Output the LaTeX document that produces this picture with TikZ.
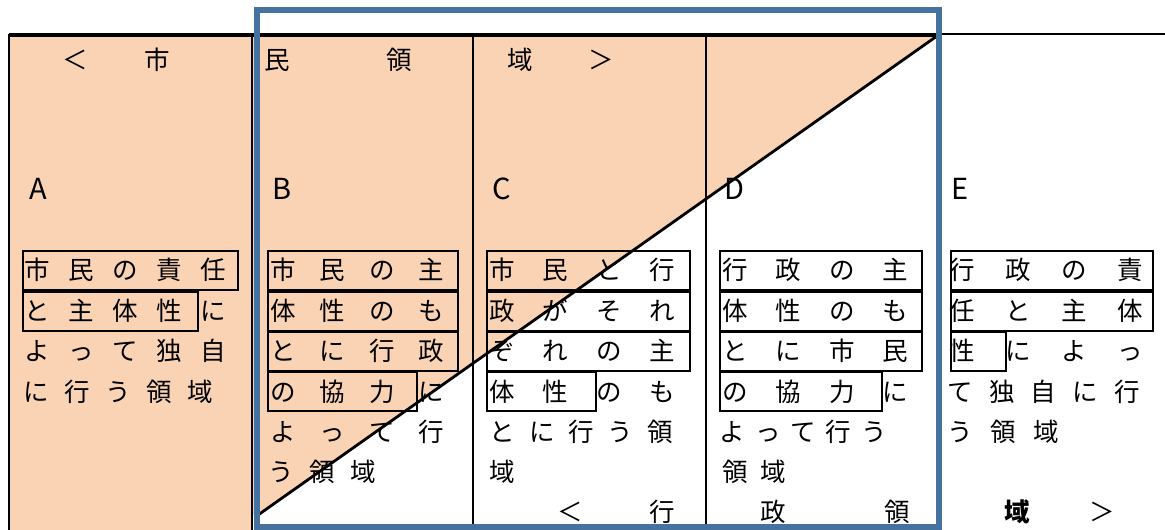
\documentclass[tikz,border=0pt]{standalone}
\usepackage{fontspec}
\newfontfamily\jpfont{Noto Sans CJK JP}
\definecolor{peach}{HTML}{FAD3B4}
\definecolor{frameblue}{HTML}{4672A0}
\tikzset{
  jp/.style={font=\jpfont\fontsize{25.5}{25.5}\selectfont, inner sep=0pt, anchor=base west},
  lbl/.style={font=\jpfont\fontsize{29}{29}\selectfont, inner sep=0pt, anchor=base},
  cellbox/.style={draw=black, line width=2pt},
  rule/.style={draw=black, line width=2.2pt},
}
\newcommand\dist[2]{\hbox to #1pt{#2}}
\begin{document}
\begin{tikzpicture}[x=1pt,y=-1pt]
\useasboundingbox (0,0) rectangle (1165,530);
% fills
\fill[peach] (9,35) rectangle (252,530);
\fill[peach] (252,35) -- (937,35) -- (258,515) -- (252,515) -- cycle;
% table rules
\draw[rule] (9,34) -- (9,530);
\draw[rule] (252,35) -- (252,530);
\draw[rule] (473,35) -- (473,527);
\draw[rule] (706,35) -- (706,527);
\draw[draw=black, line width=3.5pt] (9,35) -- (938,35);
\draw[draw=black, line width=1.8pt] (938,34) -- (1165,34);
% cell boxes
\draw[cellbox] (23,251) rectangle (238,290);
\draw[cellbox] (23,292) rectangle (198,331);
\draw[cellbox] (268,251) rectangle (458,290);
\draw[cellbox] (268,292) rectangle (458,331);
\draw[cellbox] (268,332) rectangle (458,371);
\draw[cellbox] (268,372) rectangle (417,411);
\draw[cellbox] (487,251) rectangle (690,290);
\draw[cellbox] (487,292) rectangle (690,331);
\draw[cellbox] (487,332) rectangle (690,371);
\draw[cellbox] (487,372) rectangle (596,411);
\draw[cellbox] (720,251) rectangle (922,290);
\draw[cellbox] (720,292) rectangle (922,331);
\draw[cellbox] (720,332) rectangle (922,371);
\draw[cellbox] (720,372) rectangle (882,411);
\draw[cellbox] (951,251) rectangle (1153,290);
\draw[cellbox] (951,292) rectangle (1153,331);
\draw[cellbox] (951,332) rectangle (1006,371);
% header
\node[jp] (h1) at (62.5,69.5) {\dist{107}{＜\hfill 市}};
\node[jp] (h2) at (264.5,69.5) {\dist{147}{民\hfill 領}};
\node[jp] (h3) at (507.5,69.5) {\dist{106}{域\hfill ＞}};
% labels
\node[lbl] (la) at (38,199) {A};
\node[lbl] (lb) at (282,199) {B};
\node[lbl] (lc) at (502,199) {C};
\node[lbl] (ld) at (734,199) {D};
\node[lbl] (le) at (960,199) {E};
% column A
\node[jp] (a1) at (24.5,279.5) {\dist{201}{市\hfill 民\hfill の\hfill 責\hfill 任}};
\node[jp] (a2) at (24.5,320.5) {\dist{201}{と\hfill 主\hfill 体\hfill 性\hfill に}};
\node[jp] (a3) at (24.5,360.5) {\dist{201}{よ\hfill っ\hfill て\hfill 独\hfill 自}};
\node[jp] (a4) at (23.5,401.5) {\dist{189}{に\hfill 行\hfill う\hfill 領\hfill 域}};
% column B
\node[jp] (b1) at (270.5,279.5) {\dist{173}{市\hfill 民\hfill の\hfill 主}};
\node[jp] (b2) at (270.5,320.5) {\dist{173}{体\hfill 性\hfill の\hfill も}};
\node[jp] (b3) at (270.5,360.5) {\dist{173}{と\hfill に\hfill 行\hfill 政}};
\node[jp] (b4) at (270.5,401.5) {\dist{173}{の\hfill 協\hfill 力\hfill に}};
\node[jp] (b5) at (270.5,441.5) {\dist{173}{よ\hfill っ\hfill て\hfill 行}};
\node[jp] (b6) at (268.5,481.5) {\dist{107}{う\hfill 領\hfill 域}};
% column C
\node[jp] (c1) at (489.5,279.5) {\dist{185}{市\hfill 民\hfill と\hfill 行}};
\node[jp] (c2) at (489.5,320.5) {\dist{185}{政\hfill が\hfill そ\hfill れ}};
\node[jp] (c3) at (489.5,360.5) {\dist{185}{ぞ\hfill れ\hfill の\hfill 主}};
\node[jp] (c4) at (489.5,401.5) {\dist{185}{体\hfill 性\hfill の\hfill も}};
\node[jp] (c5) at (489.5,441.5) {\dist{183}{と\hfill に\hfill 行\hfill う\hfill 領}};
\node[jp] (c6) at (489.5,481.5) {域};
\node[jp] (c7) at (557.5,521.5) {\dist{117}{＜\hfill 行}};
% column D
\node[jp] (d1) at (722.5,279.5) {\dist{185}{行\hfill 政\hfill の\hfill 主}};
\node[jp] (d2) at (722.5,320.5) {\dist{185}{体\hfill 性\hfill の\hfill も}};
\node[jp] (d3) at (722.5,360.5) {\dist{185}{と\hfill に\hfill 市\hfill 民}};
\node[jp] (d4) at (722.5,401.5) {\dist{185}{の\hfill 協\hfill 力\hfill に}};
\node[jp] (d5) at (719.5,441.5) {\dist{167}{よ\hfill っ\hfill て\hfill 行\hfill う}};
\node[jp] (d6) at (722.5,481.5) {\dist{63}{領\hfill 域}};
\node[jp] (d7) at (760.5,521.5) {\dist{149}{政\hfill 領}};
% column E
\node[jp] (e1) at (949.5,279.5) {\dist{193}{行\hfill 政\hfill の\hfill 責}};
\node[jp] (e2) at (949.5,320.5) {\dist{193}{任\hfill と\hfill 主\hfill 体}};
\node[jp] (e3) at (949.5,360.5) {\dist{193}{性\hfill に\hfill よ\hfill っ}};
\node[jp] (e4) at (947.5,401.5) {\dist{192}{て\hfill 独\hfill 自\hfill に\hfill 行}};
\node[jp] (e5) at (947.5,441.5) {\dist{111}{う\hfill 領\hfill 域}};
\node[jp] (e6) at (1004.5,521.5) {\dist{110}{{\bfseries 域}\hfill ＞}};
% diagonal
\coordinate (dtop) at (937,36);
\coordinate (dbot) at (258,515);
\draw[draw=black, line width=2.8pt] (dtop) -- (dbot);
% blue frame
\draw[draw=frameblue, line width=5.5pt] (257,10) rectangle (939,527);
\end{tikzpicture}
\end{document}
